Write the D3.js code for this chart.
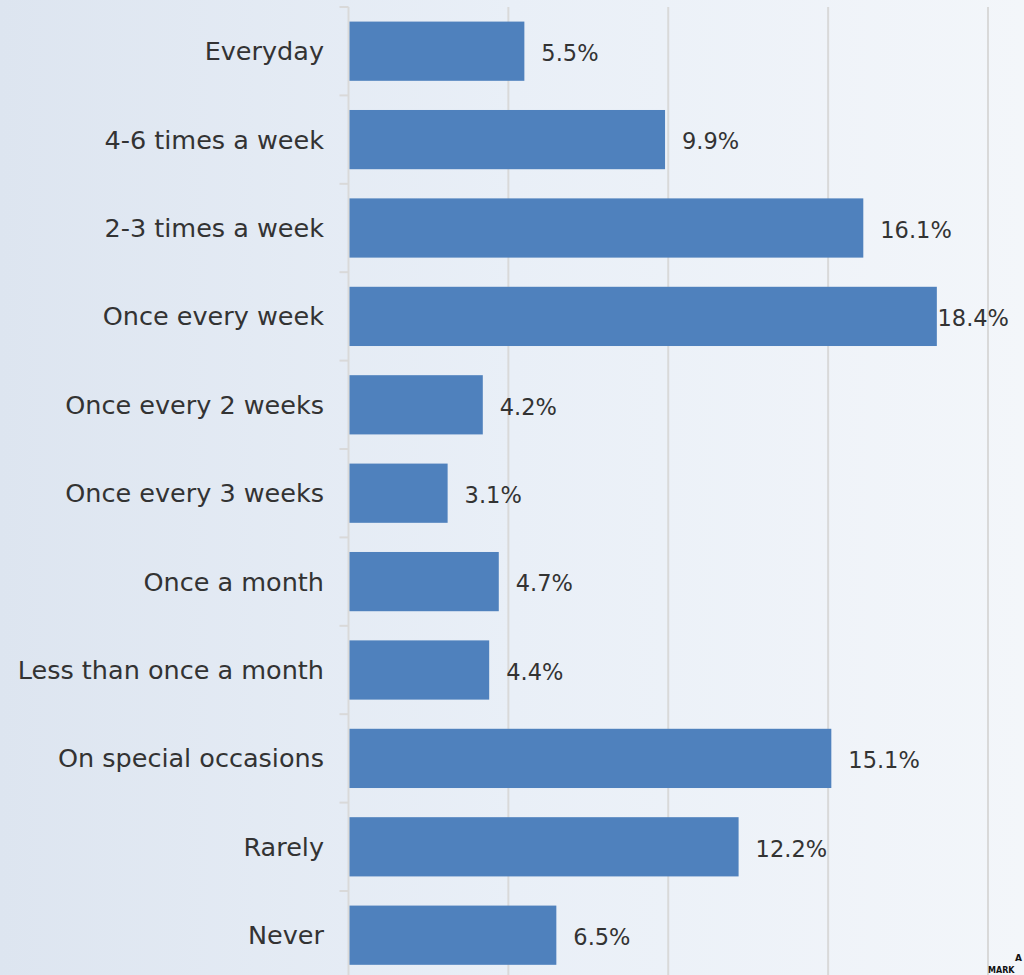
<!DOCTYPE html>
<html>
<head>
<meta charset="utf-8">
<script src="https://cdn.jsdelivr.net/npm/d3@7"></script>
<style>
  html, body { margin: 0; padding: 0; background: #fff; }
  svg { display: block; }
</style>
</head>
<body>
<svg id="chart" width="1024" height="975"></svg>
<script>
// Frequency categories, top to bottom
const categories = [
  "Everyday",
  "4-6 times a week",
  "2-3 times a week",
  "Once every week",
  "Once every 2 weeks",
  "Once every 3 weeks",
  "Once a month",
  "Less than once a month",
  "On special occasions",
  "Rarely",
  "Never"
];
// Share of respondents (%)
const shares = [5.5, 9.9, 16.1, 18.4, 4.2, 3.1, 4.7, 4.4, 15.1, 12.2, 6.5];
// Gridline positions (%)
const gridTicks = [5, 10, 15, 20];

const W = 1024, H = 975;
const svg = d3.select("#chart");

// Background wash
const defs = svg.append("defs");
const grad = defs.append("linearGradient").attr("id", "bg").attr("x1", "0").attr("x2", "1").attr("y1", "0").attr("y2", "0");
grad.append("stop").attr("offset", "0").attr("stop-color", "#dde5f0");
grad.append("stop").attr("offset", "0.5").attr("stop-color", "#e9eff7");
grad.append("stop").attr("offset", "1").attr("stop-color", "#f3f6fa");
svg.append("rect").attr("width", W).attr("height", H).attr("fill", "url(#bg)");

const x = d3.scaleLinear().domain([0, 20]).range([348.5, 988]);
const y = d3.scaleBand().domain(categories).range([7, 7 + 88.4 * categories.length]).paddingInner(0.33).paddingOuter(0.165);

const font = "'DejaVu Sans', sans-serif";
const textColor = "#333333";
const gridColor = "#d9d9d9";

// Vertical gridlines
svg.append("g").selectAll("line").data(gridTicks).join("line")
  .attr("x1", d => x(d)).attr("x2", d => x(d))
  .attr("y1", 7).attr("y2", H)
  .attr("stroke", gridColor).attr("stroke-width", 2);

// Category axis: line, band-boundary ticks, labels
const axisG = svg.append("g");
axisG.append("line")
  .attr("x1", x(0)).attr("x2", x(0)).attr("y1", 7).attr("y2", H)
  .attr("stroke", gridColor).attr("stroke-width", 2);
const step = y.step();
const boundaries = d3.range(categories.length + 1).map(i => y.range()[0] + i * step);
axisG.selectAll("line.tick").data(boundaries).join("line")
  .attr("class", "tick")
  .attr("x1", x(0) - 9).attr("x2", x(0))
  .attr("y1", d => d).attr("y2", d => d)
  .attr("stroke", gridColor).attr("stroke-width", 2);
axisG.selectAll("text").data(categories).join("text")
  .attr("x", 324)
  .attr("y", d => y(d) + y.bandwidth() / 2)
  .attr("dy", "0.35em")
  .attr("text-anchor", "end")
  .attr("font-family", font)
  .attr("font-size", 25.5)
  .attr("fill", textColor)
  .text(d => d);

// Bars
const rows = categories.map((c, i) => ({ c, v: shares[i] }));
svg.append("g").selectAll("rect").data(rows).join("rect")
  .attr("x", x(0) + 1)
  .attr("y", d => y(d.c))
  .attr("width", d => x(d.v) - x(0) - 1)
  .attr("height", y.bandwidth())
  .attr("fill", "#4f81bd");

// Value labels, kept inside the plot's right edge
const rightLimit = 1009;
svg.append("g").selectAll("text").data(rows).join("text")
  .attr("y", d => y(d.c) + y.bandwidth() / 2 + 2)
  .attr("dy", "0.35em")
  .attr("font-family", font)
  .attr("font-size", 22.5)
  .attr("fill", textColor)
  .text(d => d.v.toFixed(1) + "%")
  .attr("x", function (d) {
    const w = this.getComputedTextLength();
    return Math.min(x(d.v) + 17, rightLimit - w);
  });

// Small logo text at the lower right corner
svg.append("text").attr("x", 1022).attr("y", 961).attr("text-anchor", "end").attr("font-family", font)
  .attr("font-size", 9).attr("font-weight", "bold").attr("fill", "#111").text("A");
svg.append("text").attr("x", 988).attr("y", 973).attr("font-family", font)
  .attr("font-size", 8).attr("font-weight", "bold").attr("fill", "#111").text("MARK");
</script>
</body>
</html>
